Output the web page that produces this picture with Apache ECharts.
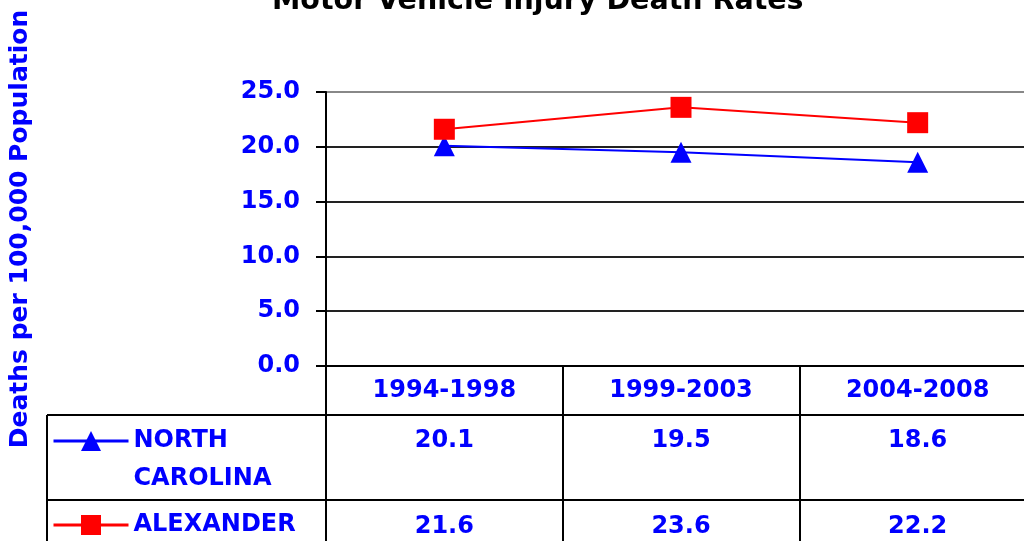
<!DOCTYPE html>
<html>
<head>
<meta charset="utf-8">
<script src="https://cdn.jsdelivr.net/npm/echarts@6/dist/echarts.min.js"></script>
<style>
    html, body { margin: 0; padding: 0; background: #fff; }
    #chart { width: 1024px; height: 541px; }
</style>
</head>
<body>
<div id="chart"></div>
<script>
var categories = ['1994-1998', '1999-2003', '2004-2008'];
var ncValues = [20.1, 19.5, 18.6];
var alexValues = [21.6, 23.6, 22.2];
var seriesNames = ['NORTH CAROLINA', 'ALEXANDER'];
var yMin = 0, yMax = 25, yStep = 5;

var blue = '#0000ff', red = '#ff0000';
var font = 'DejaVu Sans';

var myChart = echarts.init(document.getElementById('chart'));

// extra category axes used as the data table rows
function valueAxis(data, offset) {
    return {
        type: 'category',
        gridIndex: 0,
        position: 'bottom',
        offset: offset,
        data: data,
        axisLine: { show: false },
        axisTick: { show: false },
        axisLabel: {
            color: blue, fontFamily: font, fontWeight: 'bold', fontSize: 24,
            margin: 13, verticalAlign: 'top'
        }
    };
}

var option = {
    animation: false,
    title: {
        text: 'Motor Vehicle Injury Death Rates',
        left: 267,
        top: -18,
        textStyle: { color: '#000', fontFamily: font, fontWeight: 'bold', fontSize: 28.5 }
    },
    legend: [
        {
            data: [seriesNames[0]],
            orient: 'vertical',
            left: 52, top: 384, padding: 0,
            itemWidth: 75, itemHeight: 25,
            lineStyle: { width: 3 },
            formatter: function (name) { return '\n' + name.replace(' ', '\n'); },
            textStyle: {
                color: blue, fontFamily: font, fontWeight: 'bold', fontSize: 24,
                lineHeight: 38
            }
        },
        {
            data: [seriesNames[1]],
            orient: 'vertical',
            left: 52, top: 506, padding: 0,
            itemWidth: 75, itemHeight: 25,
            lineStyle: { width: 3 },
            textStyle: {
                color: blue, fontFamily: font, fontWeight: 'bold', fontSize: 24,
                lineHeight: 38
            }
        }
    ],
    grid: { left: 326, top: 92, width: 710, height: 274, containLabel: false, outerBoundsMode: 'none' },
    xAxis: [
        {
            type: 'category',
            data: categories,
            axisLine: { lineStyle: { color: '#000', width: 2 } },
            axisTick: { show: true, length: 180, lineStyle: { color: '#000', width: 2 } },
            axisLabel: {
                color: blue, fontFamily: font, fontWeight: 'bold', fontSize: 24,
                margin: 13, verticalAlign: 'top'
            }
        },
        valueAxis(ncValues.map(function (v) { return v.toFixed(1); }), 50),
        valueAxis(alexValues.map(function (v) { return v.toFixed(1); }), 136)
    ],
    yAxis: {
        type: 'value',
        min: yMin, max: yMax, interval: yStep,
        name: 'Deaths per 100,000 Population',
        nameLocation: 'middle',
        nameRotate: 90,
        nameGap: 293,
        nameTextStyle: { color: blue, fontFamily: font, fontWeight: 'bold', fontSize: 25 },
        axisLine: { show: true, lineStyle: { color: '#000', width: 2 } },
        axisTick: { show: true, length: 10, lineStyle: { color: '#000', width: 2 } },
        axisLabel: {
            color: blue, fontFamily: font, fontWeight: 'bold', fontSize: 24, margin: 26,
            padding: [10, 0, 0, 0],
            formatter: function (v) { return v.toFixed(1); }
        },
        splitLine: {
            show: true,
            lineStyle: { color: ['#000', '#222', '#222', '#222', '#222', '#888'], width: 2 }
        }
    },
    graphic: [
        { type: 'line', shape: { x1: 47, y1: 415, x2: 1040, y2: 415 }, style: { stroke: '#000', lineWidth: 2 } },
        { type: 'line', shape: { x1: 47, y1: 500, x2: 1040, y2: 500 }, style: { stroke: '#000', lineWidth: 2 } },
        { type: 'line', shape: { x1: 47, y1: 415, x2: 47, y2: 545 }, style: { stroke: '#000', lineWidth: 2 } }
    ],
    series: [
        {
            name: seriesNames[0],
            type: 'line',
            data: ncValues,
            symbol: 'triangle',
            symbolSize: 21,
            itemStyle: { color: blue },
            lineStyle: { color: blue, width: 2 }
        },
        {
            name: seriesNames[1],
            type: 'line',
            data: alexValues,
            symbol: 'rect',
            symbolSize: 21,
            itemStyle: { color: red },
            lineStyle: { color: red, width: 2 }
        }
    ]
};
myChart.setOption(option);
</script>
</body>
</html>
